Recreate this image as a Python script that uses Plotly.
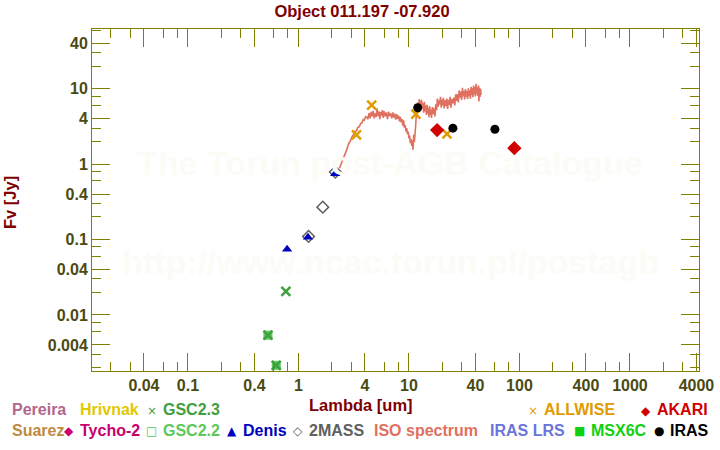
import plotly.graph_objects as go

# ---------------- data ----------------
gsc22_lam = [0.53, 0.63]
gsc22_flux = [0.0054, 0.00215]
gsc23_lam = [0.53, 0.63, 0.77]
gsc23_flux = [0.0054, 0.00215, 0.0206]
denis_lam = [0.79, 1.22, 2.15]
denis_flux = [0.0745, 0.107, 0.743]
tmass_lam = [1.235, 1.662, 2.159]
tmass_flux = [0.110, 0.269, 0.785]
allwise_lam = [3.35, 4.6, 11.56, 22.08]
allwise_flux = [2.45, 6.07, 4.61, 2.52]
iras_lam = [12, 25, 60]
iras_flux = [5.6, 3.0, 2.9]
akari_lam = [18, 90]
akari_flux = [2.83, 1.63]

iso_lam = [2.35, 2.42, 2.50, 2.58, 2.66, 2.75, 2.85, 2.95, 3.05, 3.15, 3.25, 3.35, 3.45, 3.55,
           3.65, 3.75, 3.85, 3.95, 4.05, 4.15, 4.25, 4.35, 4.45, 4.55, 4.65, 4.75, 4.85, 4.95,
           5.05, 5.15, 5.25, 5.35, 5.45, 5.55, 5.65, 5.75, 5.85, 5.95, 6.10, 6.25, 6.40, 6.55,
           6.70, 6.85, 7.00, 7.15, 7.30, 7.45, 7.60, 7.75, 7.90, 8.05, 8.20, 8.35, 8.50, 8.65,
           8.80, 8.95, 9.10, 9.25, 9.40, 9.55, 9.70, 9.85, 10.00, 10.15, 10.30, 10.45, 10.60,
           10.75, 10.90, 11.05, 11.20, 11.35, 11.50, 11.65, 11.80, 11.95, 12.10, 12.25, 12.40,
           12.55, 12.70, 12.85, 13.00, 13.20, 13.40, 13.60, 13.80, 14.00, 14.20, 14.40, 14.60,
           14.80, 15.00, 15.20, 15.40, 15.60, 15.80, 16.00, 16.30, 16.60, 16.90, 17.20, 17.50,
           17.80, 18.10, 18.40, 18.70, 19.00, 19.30, 19.60, 19.90, 20.20, 20.50, 20.80, 21.20,
           21.60, 22.00, 22.40, 22.80, 23.20, 23.60, 24.00, 24.50, 25.00, 25.50, 26.00, 26.50,
           27.00, 27.50, 28.00, 28.50, 29.00, 29.50, 30.00, 30.50, 31.00, 31.50, 32.00, 32.50,
           33.00, 33.50, 34.00, 34.50, 35.00, 35.50, 36.00, 36.50, 37.00, 37.50, 38.00, 38.50,
           39.00, 39.50, 40.00, 40.50, 41.00, 41.50, 42.00, 42.50, 43.00, 43.50, 44.00, 44.50,
           45.00]
iso_flux = [0.88, 0.98, 1.12, 1.22, 1.42, 1.58, 1.88, 2.02, 2.30, 2.45, 2.72, 2.76, 3.08, 3.12,
            3.45, 3.50, 3.90, 3.85, 4.25, 4.20, 3.95, 4.75, 4.05, 4.95, 4.30, 5.10, 4.05, 4.70,
            4.20, 5.45, 4.35, 5.00, 3.95, 4.90, 4.40, 5.20, 4.10, 5.05, 4.30, 4.85, 3.95, 4.95,
            4.35, 4.70, 4.05, 4.85, 4.15, 4.65, 3.90, 4.60, 4.00, 4.40, 3.70, 4.25, 3.60, 3.95,
            3.25, 3.80, 3.05, 3.30, 2.70, 3.00, 2.50, 2.70, 2.20, 2.40, 1.90, 2.15, 1.75,
            2.05, 1.55, 2.45, 1.95, 3.10, 3.20, 4.40, 4.60, 6.00, 6.60, 5.40, 7.30,
            5.90, 6.80, 5.30, 7.10, 5.50, 6.40, 4.80, 6.70, 5.00, 6.00, 4.50, 6.10,
            4.70, 5.60, 4.20, 5.90, 4.50, 5.30, 4.10, 5.70, 4.60, 5.50, 4.30, 6.20,
            5.20, 7.40, 5.80, 7.00, 6.20, 7.80, 5.60, 7.20, 6.00, 7.60, 5.50, 7.00,
            5.90, 7.40, 5.40, 7.10, 6.10, 7.80, 5.60, 7.30, 6.40, 7.60, 6.00, 8.40,
            6.90, 8.50, 6.60, 9.50, 7.60, 9.20, 7.10, 10.30, 7.90, 9.40, 7.20, 9.90,
            7.80, 9.30, 7.30, 10.10, 8.00, 9.50, 7.40, 10.60, 8.20, 10.20, 7.70, 11.00,
            8.40, 10.50, 7.90, 11.60, 8.60, 10.40, 8.00, 11.00, 6.80, 10.40, 7.80, 10.00,
            8.30]

x_tickvals = [0.04, 0.1, 0.4, 1, 4, 10, 40, 100, 400, 1000, 4000]
x_ticktext = ["0.04", "0.1", "0.4", "1", "4", "10", "40", "100", "400", "1000", "4000"]
x_minor = [0.02, 0.03, 0.06, 0.08, 0.2, 0.3, 0.6, 0.8, 2, 3, 6, 8, 20, 30, 60, 80,
           200, 300, 600, 800, 2000, 3000]
y_tickvals = [0.004, 0.01, 0.04, 0.1, 0.4, 1, 4, 10, 40]
y_ticktext = ["0.004", "0.01", "0.04", "0.1", "0.4", "1", "4", "10", "40"]
y_minor = [0.002, 0.003, 0.006, 0.008, 0.02, 0.03, 0.06, 0.08, 0.2, 0.3, 0.6, 0.8,
           2, 3, 6, 8, 20, 30, 60]

# ---------------- figure ----------------
W, H = 720, 450
L, R, T, B = 92, 21, 29, 79
PW, PH = W - L - R, H - T - B

def px(x):
    return (x - L) / PW

def py(y):
    return (H - B - y) / PH

FONT = "Liberation Sans, Arial, sans-serif"
AXC = "#808000"
TXC = "#4a4a12"
DRED = "#800000"

fig = go.Figure()

# watermark
for txt, yy in [("The Torun post-AGB Catalogue", 163), ("http://www.ncac.torun.pl/postagb", 262)]:
    fig.add_annotation(x=px(390), y=py(yy), xref="paper", yref="paper", text=txt,
                       showarrow=False, xanchor="center", yanchor="middle",
                       font=dict(family=FONT, size=34, color="#fcfbf6", weight="bold"))

fig.add_trace(go.Scatter(x=iso_lam, y=iso_flux, mode="lines",
                         line=dict(color="#e07060", width=1.6), name="ISO spectrum"))
fig.add_trace(go.Scatter(x=gsc22_lam, y=gsc22_flux, mode="markers", name="GSC2.2",
                         marker=dict(symbol="square", size=8, color="#5cc85c",
                                     line=dict(width=1, color="#5cc85c"))))
fig.add_trace(go.Scatter(x=gsc23_lam, y=gsc23_flux, mode="markers", name="GSC2.3",
                         marker=dict(symbol="x-thin", size=9, color="#40a040",
                                     line=dict(width=2.5, color="#40a040"))))
fig.add_trace(go.Scatter(x=tmass_lam, y=tmass_flux, mode="markers", name="2MASS",
                         marker=dict(symbol="diamond-open", size=9, color="#606060",
                                     line=dict(width=1.5, color="#606060"))))
fig.add_trace(go.Scatter(x=denis_lam, y=denis_flux, mode="markers", name="Denis",
                         marker=dict(symbol="triangle-up", size=9, color="#0000c0")))
fig.add_trace(go.Scatter(x=allwise_lam, y=allwise_flux, mode="markers", name="ALLWISE",
                         marker=dict(symbol="x-thin", size=9, color="#e09b00",
                                     line=dict(width=2.5, color="#e09b00"))))
fig.add_trace(go.Scatter(x=akari_lam, y=akari_flux, mode="markers", name="AKARI",
                         marker=dict(symbol="diamond", size=11, color="#d00000")))
fig.add_trace(go.Scatter(x=iras_lam, y=iras_flux, mode="markers", name="IRAS",
                         marker=dict(symbol="circle", size=9, color="#000000")))

axis_common = dict(type="log", showline=True, linecolor=AXC, linewidth=1, mirror="ticks",
                   ticks="inside", ticklen=18, tickwidth=1, tickcolor=AXC, showgrid=False,
                   zeroline=False, tickmode="array", automargin=False,
                   tickfont=dict(family=FONT, size=16, color=TXC, weight="bold"))

fig.update_xaxes(range=[-1.868, 3.625], tickvals=x_tickvals, ticktext=x_ticktext,
                 minor=dict(tickmode="array", tickvals=x_minor, ticks="inside", ticklen=9,
                            tickwidth=1, tickcolor=AXC, showgrid=False),
                 **axis_common)
fig.update_yaxes(range=[-2.743, 1.792], tickvals=y_tickvals, ticktext=y_ticktext,
                 minor=dict(tickmode="array", tickvals=y_minor, ticks="inside", ticklen=9,
                            tickwidth=1, tickcolor=AXC, showgrid=False),
                 **axis_common)

# axis titles
fig.add_annotation(x=px(361), y=py(405), xref="paper", yref="paper", text="Lambda [um]",
                   showarrow=False, xanchor="center", yanchor="middle",
                   font=dict(family=FONT, size=16.5, color=DRED, weight="bold"))
fig.add_annotation(x=px(10), y=py(203), xref="paper", yref="paper", text="Fv [Jy]",
                   textangle=-90, showarrow=False, xanchor="center", yanchor="middle",
                   font=dict(family=FONT, size=16.5, color=DRED, weight="bold"))

# legend (text + glyph)
legend_items = [
    ("Pereira", "#b3668c", None, 10, 410),
    ("Hrivnak", "#e0c800", None, 77.5, 410),
    ("GSC2.3", "#40a040", "×", 160.6, 410),
    ("ALLWISE", "#e09b00", "×", 542.3, 410),
    ("AKARI", "#d00000", "◆", 654.5, 410),
    ("Suarez", "#c08a40", None, 10, 430),
    ("Tycho-2", "#c8006e", "◆", 77.5, 430),
    ("GSC2.2", "#5cc85c", "□", 160.6, 430),
    ("Denis", "#0000c0", "▲", 241, 430),
    ("2MASS", "#606060", "◇", 307, 430),
    ("ISO spectrum", "#e07060", None, 371.5, 430),
    ("IRAS LRS", "#6a75dc", None, 488, 430),
    ("MSX6C", "#10d010", "■", 588.5, 430),
    ("IRAS", "#000000", "●", 668.3, 430),
]
for label, col, glyph, xx, yy in legend_items:
    fig.add_annotation(x=px(xx), y=py(yy), xref="paper", yref="paper", text=label,
                       showarrow=False, xanchor="left", yanchor="middle",
                       font=dict(family=FONT, size=16, color=col, weight="bold"))
    if glyph:
        fig.add_annotation(x=px(xx - 2), y=py(yy + 1), xref="paper", yref="paper", text=glyph,
                           showarrow=False, xanchor="right", yanchor="middle",
                           font=dict(family="DejaVu Sans", size=12, color=col))

fig.update_layout(
    width=W, height=H, margin=dict(l=L, r=R, t=T, b=B, pad=0, autoexpand=False),
    paper_bgcolor="white", plot_bgcolor="white", showlegend=False,
    title=dict(text="Object 011.197 -07.920", x=362 / W, xanchor="center", xref="container",
               y=1 - 11 / H, yanchor="middle", yref="container",
               font=dict(family=FONT, size=16.5, color=DRED, weight="bold")),
)

fig.write_html("out.html", config={"displayModeBar": False},
               post_script="document.body.style.margin='0';document.body.style.padding='0';")
